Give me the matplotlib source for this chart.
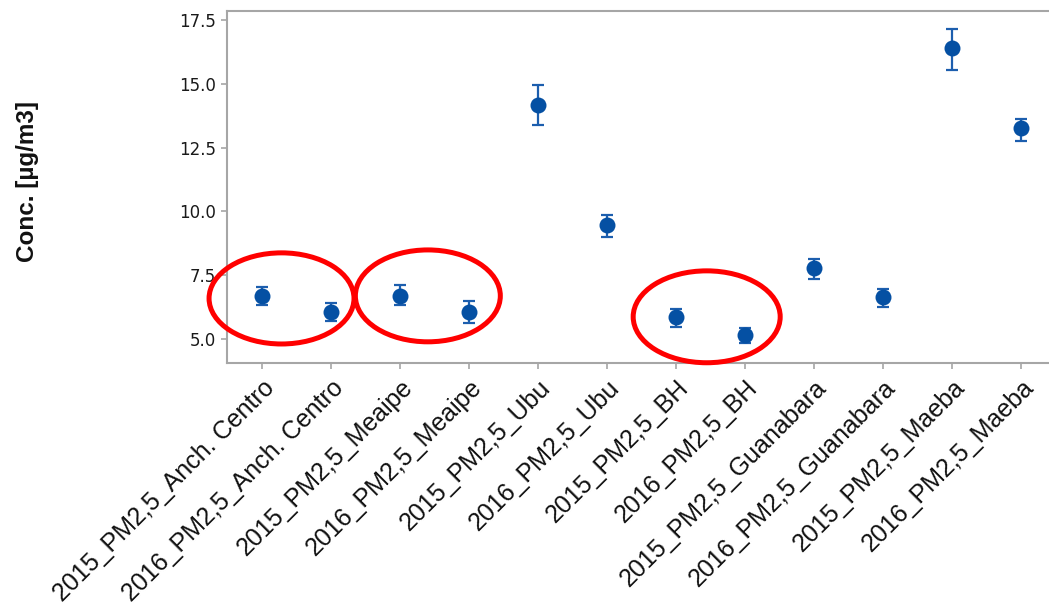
import matplotlib
matplotlib.use("Agg")
import matplotlib.pyplot as plt
from matplotlib.patches import Ellipse

# Mean PM2.5 concentration per site and year, with error half-widths
labels = [
    "2015_PM2,5_Anch. Centro", "2016_PM2,5_Anch. Centro",
    "2015_PM2,5_Meaipe", "2016_PM2,5_Meaipe",
    "2015_PM2,5_Ubu", "2016_PM2,5_Ubu",
    "2015_PM2,5_BH", "2016_PM2,5_BH",
    "2015_PM2,5_Guanabara", "2016_PM2,5_Guanabara",
    "2015_PM2,5_Maeba", "2016_PM2,5_Maeba",
]
conc = [6.70, 6.07, 6.70, 6.07, 14.18, 9.47, 5.85, 5.16, 7.77, 6.64, 16.40, 13.26]
err_lo = [0.37, 0.36, 0.37, 0.43, 0.80, 0.48, 0.39, 0.30, 0.43, 0.40, 0.88, 0.51]
err_hi = [0.33, 0.33, 0.41, 0.42, 0.77, 0.39, 0.31, 0.28, 0.36, 0.31, 0.76, 0.37]
yticks = [5.0, 7.5, 10.0, 12.5, 15.0, 17.5]

# Highlight ellipses (centre x, centre y, width, height) in data units
highlights = [(0.28, 6.59, 2.10, 3.57), (2.40, 6.69, 2.10, 3.60), (6.44, 5.87, 2.13, 3.60)]

point_color = "#0550a3"
bar_color = "#1c5eae"

fig = plt.figure(figsize=(10.49, 6.05), dpi=100)
ax = fig.add_axes([0.2164, 0.40, 0.7856, 0.5818])

x = list(range(len(labels)))
ax.errorbar(x, conc, yerr=[err_lo, err_hi], fmt="none", ecolor=bar_color,
            elinewidth=1.6, capsize=4, capthick=1.6, zorder=2)
ax.plot(x, conc, linestyle="none", marker="o", markersize=11.5,
        color=point_color, markeredgewidth=0, zorder=3)

for cx, cy, w, h in highlights:
    ax.add_patch(Ellipse((cx, cy), w, h, fill=False, edgecolor="#ff0000",
                         linewidth=3.6, clip_on=False, zorder=4))

ax.set_xlim(-0.51, 11.43)
ax.set_ylim(4.06, 17.85)
ax.set_yticks(yticks)
ax.set_yticklabels([f"{v:.1f}" for v in yticks], fontfamily="DejaVu Sans",
                   fontsize=12, color="#1a1a1a")
ax.set_xticks(x)
ax.set_xticklabels(labels, rotation=45, ha="right", rotation_mode="anchor",
                   fontfamily="Liberation Sans", fontsize=18, color="#111111")

for side in ("left", "bottom", "top", "right"):
    ax.spines[side].set_color("#a6a6a6")
    ax.spines[side].set_linewidth(1.5)
ax.tick_params(axis="both", direction="out", length=4, width=1.2, color="#a6a6a6")
ax.tick_params(axis="x", pad=5)
ax.tick_params(axis="y", pad=4)

fig.text(0.026, 0.70, "Conc. [µg/m3]", rotation=90, ha="center", va="center",
         fontfamily="Liberation Sans", fontweight="bold", fontsize=17.5, color="#111111")

fig.savefig("out.png", dpi=100)
